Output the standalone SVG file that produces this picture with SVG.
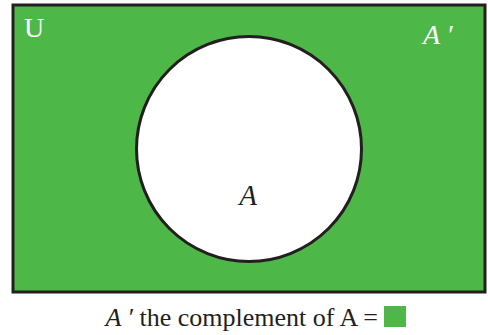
<svg xmlns="http://www.w3.org/2000/svg" width="488" height="335" viewBox="0 0 488 335">
  <style>
    .lbl { font-family: "Liberation Serif", "Times New Roman", serif; }
    .it { font-style: italic; }
    .wht { fill: #ffffff; }
    .drk { fill: #231f20; }
  </style>
  <rect x="0" y="0" width="488" height="335" fill="#ffffff"/>
  <g id="universe">
    <rect x="13" y="5" width="472" height="287" fill="#4db848" stroke="#231f20" stroke-width="3"/>
    <text class="lbl wht" x="24" y="37" font-size="28">U</text>
    <text class="lbl it wht" x="423" y="44" font-size="28">A ′</text>
  </g>
  <g id="setA">
    <circle cx="249" cy="149" r="112.5" fill="#ffffff" stroke="#231f20" stroke-width="3"/>
    <text class="lbl it drk" x="248" y="205" font-size="29" text-anchor="middle">A</text>
  </g>
  <g id="caption">
    <text class="lbl drk" x="378" y="326" font-size="26" text-anchor="end"><tspan class="it">A ′</tspan> the complement of A =</text>
    <rect x="384" y="306" width="22" height="21" fill="#4db848"/>
  </g>
</svg>
